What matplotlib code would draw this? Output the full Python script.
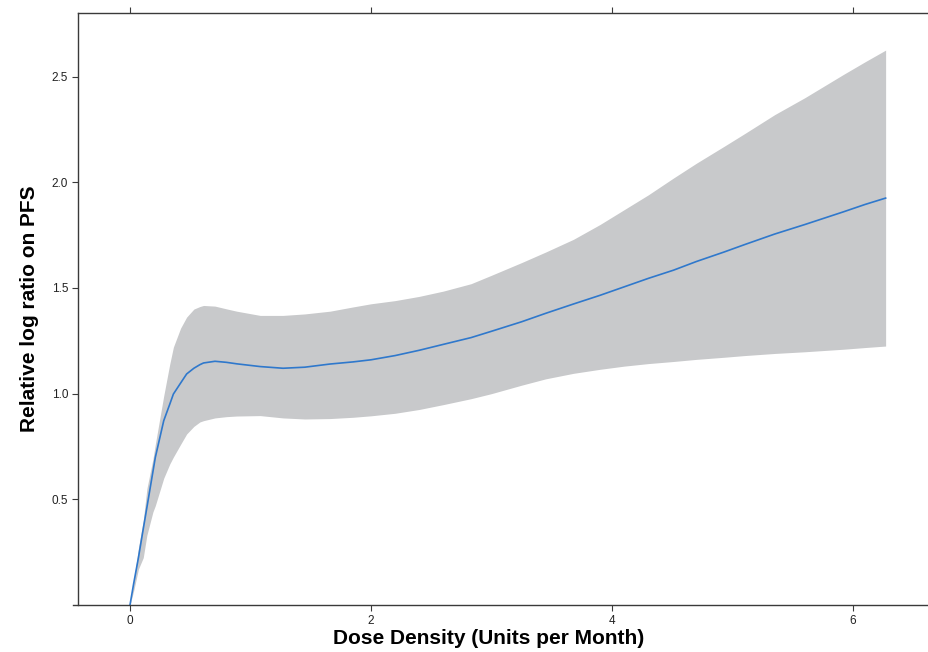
import matplotlib
matplotlib.use("Agg")
import matplotlib.pyplot as plt

plt.rcParams["font.family"] = ["Liberation Sans", "DejaVu Sans"]

# values
dose = [0.0, 0.03, 0.07, 0.11, 0.14, 0.19, 0.21, 0.28, 0.33, 0.36, 0.42, 0.47,
        0.53, 0.58, 0.61, 0.705, 0.80, 0.885, 1.08, 1.27, 1.45, 1.66, 1.85,
        2.0, 2.2, 2.4, 2.6, 2.83, 3.0, 3.25, 3.45, 3.68, 3.9, 4.1, 4.3, 4.51,
        4.7, 4.93, 5.1, 5.35, 5.6, 5.92, 6.1, 6.27]
fit = [0.0, 0.10, 0.224, 0.36, 0.461, 0.63, 0.698, 0.872, 0.95, 0.998, 1.05,
       1.093, 1.12, 1.137, 1.145, 1.153, 1.148, 1.141, 1.128, 1.12, 1.125,
       1.14, 1.15, 1.16, 1.18, 1.205, 1.233, 1.265, 1.295, 1.34, 1.38, 1.424,
       1.465, 1.505, 1.545, 1.584, 1.625, 1.67, 1.705, 1.755, 1.80, 1.86,
       1.895, 1.925]
upper = [0.0, 0.11, 0.27, 0.40, 0.55, 0.69, 0.76, 0.99, 1.14, 1.22, 1.31,
         1.362, 1.40, 1.412, 1.417, 1.414, 1.401, 1.39, 1.37, 1.37, 1.377,
         1.39, 1.41, 1.425, 1.44, 1.46, 1.485, 1.52, 1.56, 1.62, 1.67, 1.73,
         1.80, 1.87, 1.94, 2.02, 2.09, 2.17, 2.23, 2.32, 2.40, 2.51, 2.57,
         2.625]
lower = [0.0, 0.066, 0.17, 0.224, 0.33, 0.44, 0.47, 0.60, 0.667, 0.70, 0.76,
         0.809, 0.845, 0.866, 0.872, 0.885, 0.891, 0.894, 0.896, 0.885, 0.88,
         0.882, 0.888, 0.895, 0.907, 0.925, 0.948, 0.976, 1.0, 1.04, 1.07,
         1.096, 1.115, 1.13, 1.142, 1.152, 1.162, 1.172, 1.18, 1.19, 1.198,
         1.21, 1.218, 1.225]

x_ticks = [0, 2, 4, 6]
y_ticks = [0.5, 1.0, 1.5, 2.0, 2.5]

fig = plt.figure(figsize=(9.29, 6.52), dpi=100)
ax = fig.add_axes([78 / 929, 47 / 652, 851 / 929, 592.5 / 652])

ax.fill_between(dose, lower, upper, color="#c8c9cb", linewidth=0)
ax.plot(dose, fit, color="#2f78cc", linewidth=1.2)

ax.set_xlim(-0.4315, 6.63)
ax.set_ylim(0.0, 2.803)
ax.set_xticks(x_ticks)
ax.set_yticks(y_ticks)
ax.set_yticklabels([f"{v:.1f}" for v in y_ticks])

for side in ("left", "bottom", "top"):
    ax.spines[side].set_color("#3a3a3a")
    ax.spines[side].set_linewidth(1.0)
ax.spines["right"].set_visible(False)
ax.spines["bottom"].set_bounds(-0.47, 6.63)

ax.tick_params(axis="both", direction="out", length=4, width=0.8,
               color="#3a3a3a", labelsize=8.5, labelcolor="#222222", pad=3)
ax.tick_params(axis="x", top=True, labeltop=False)

ax.set_xlabel("Dose Density (Units per Month)", fontsize=15, fontweight="bold")
ax.xaxis.set_label_coords(0.482, -0.04)
ax.set_ylabel("Relative log ratio on PFS", fontsize=15, fontweight="bold",
              labelpad=9)

fig.savefig("out.png", dpi=100)
